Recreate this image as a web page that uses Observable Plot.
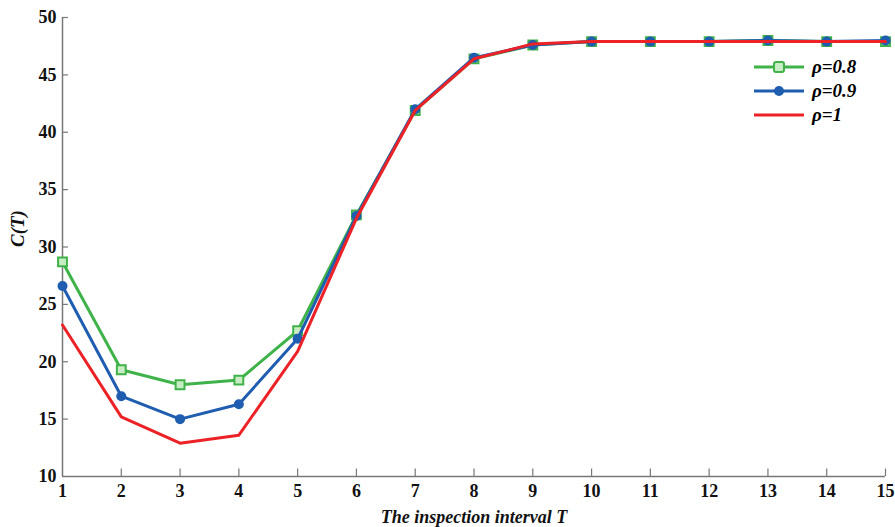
<!DOCTYPE html>
<html>
<head>
<meta charset="utf-8">
<script src="https://cdn.jsdelivr.net/npm/d3@7"></script>
<script src="https://cdn.jsdelivr.net/npm/@observablehq/plot@0.6"></script>
<style>
  html, body { margin: 0; padding: 0; background: #fff; }
  #wrap { position: relative; width: 895px; height: 527px; }
  #wrap svg text { font-family: "Liberation Serif", "Times New Roman", serif !important; font-weight: bold; }
  #legend { position: absolute; left: 752px; top: 55px; font-family: "Liberation Serif", serif; font-weight: bold; font-style: italic; font-size: 19px; }
  #legend .row { display: flex; align-items: center; height: 24px; }
  #legend svg { margin-right: 6px; }
</style>
</head>
<body>
<div id="wrap"><div id="legend"></div></div>
<script>
const T = [1,2,3,4,5,6,7,8,9,10,11,12,13,14,15];
const rho08 = [28.7,19.3,18.0,18.4,22.7,32.8,41.9,46.4,47.6,47.9,47.9,47.9,48.0,47.9,47.9];
const rho09 = [26.6,17.0,15.0,16.3,22.0,32.7,42.0,46.5,47.6,47.9,47.9,47.9,48.0,47.9,48.0];
const rho10 = [23.2,15.2,12.9,13.6,20.9,32.5,41.9,46.4,47.7,47.9,47.9,47.9,47.9,47.9,47.9];
const seriesNames = ["ρ=0.8", "ρ=0.9", "ρ=1"];
const colors = ["#3fb34a", "#1f5db0", "#ec2227"];
const yTicks = [10,15,20,25,30,35,40,45,50];

const d08 = T.map((t,i) => ({T: t, C: rho08[i]}));
const d09 = T.map((t,i) => ({T: t, C: rho09[i]}));
const d10 = T.map((t,i) => ({T: t, C: rho10[i]}));

const chart = Plot.plot({
  width: 895,
  height: 527,
  marginLeft: 62,
  marginRight: 10,
  marginTop: 17,
  marginBottom: 51,
  style: {fontSize: "18px", color: "#111", background: "#fff"},
  x: {domain: [1, 15]},
  y: {domain: [10, 50]},
  marks: [
    Plot.axisX({ticks: T, tickSize: 0, tickPadding: 8, tickFormat: d => d, label: null, fontSize: 18}),
    Plot.axisY({ticks: yTicks, tickSize: 0, tickPadding: 6, label: null, fontSize: 18}),
    Plot.ruleX(T.slice(1), {x: d => d, y1: 10, y2: 10.65, stroke: "#777", strokeWidth: 1.2}),
    Plot.ruleY(yTicks.slice(1), {y: d => d, x1: 1, x2: 1.1, stroke: "#777", strokeWidth: 1.2}),
    Plot.ruleX([1], {stroke: "#777", strokeWidth: 1.5}),
    Plot.ruleY([10], {stroke: "#777", strokeWidth: 1.5}),
    Plot.line(d08, {x: "T", y: "C", stroke: colors[0], strokeWidth: 3}),
    Plot.dot(d08, {x: "T", y: "C", symbol: "square", r: 5, stroke: colors[0], strokeWidth: 2, fill: "#c8ecc4"}),
    Plot.line(d09, {x: "T", y: "C", stroke: colors[1], strokeWidth: 3}),
    Plot.dot(d09, {x: "T", y: "C", r: 5, fill: colors[1]}),
    Plot.line(d10, {x: "T", y: "C", stroke: colors[2], strokeWidth: 3}),
    Plot.text(["The inspection interval T"], {frameAnchor: "bottom", dy: 46, fontStyle: "italic", fontSize: 18}),
    Plot.text(["C(T)"], {frameAnchor: "left", dx: -45, rotate: -90, fontStyle: "italic", fontSize: 19})
  ]
});
document.getElementById("wrap").prepend(chart);

const legend = d3.select("#legend");
seriesNames.forEach((name, i) => {
  const row = legend.append("div").attr("class", "row");
  const s = row.append("svg").attr("width", 54).attr("height", 14);
  s.append("line").attr("x1", 2).attr("x2", 52).attr("y1", 7).attr("y2", 7).attr("stroke", colors[i]).attr("stroke-width", 3);
  if (i === 0) s.append("rect").attr("x", 22).attr("y", 2).attr("width", 10).attr("height", 10).attr("rx", 2).attr("fill", "#c8ecc4").attr("stroke", colors[0]).attr("stroke-width", 2);
  if (i === 1) s.append("circle").attr("cx", 27).attr("cy", 7).attr("r", 5).attr("fill", colors[1]);
  row.append("span").text(name);
});
</script>
</body>
</html>
